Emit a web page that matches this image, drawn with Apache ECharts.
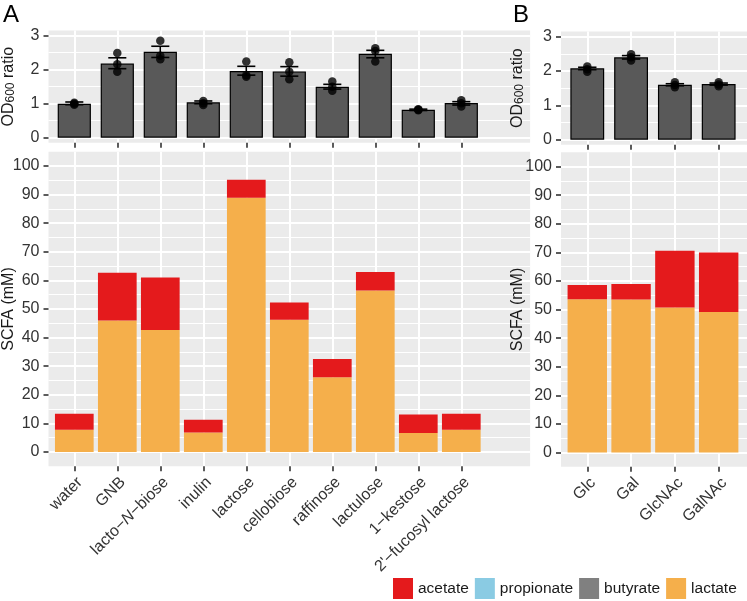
<!DOCTYPE html>
<html><head><meta charset="utf-8">
<script src="https://cdn.jsdelivr.net/npm/echarts@6/dist/echarts.min.js"></script>
<style>html,body{margin:0;padding:0;background:#fff}#c{width:747px;height:601px}</style>
</head><body><div id="c"></div>
<script>
// ---------------- data ----------------
const catsA = ['water','GNB','lacto−N−biose','inulin','lactose','cellobiose','raffinose','lactulose','1−kestose',"2'−fucosyl lactose"];
const catsB = ['Glc','Gal','GlcNAc','GalNAc'];

const odMeanA = [1.00,2.18,2.53,1.04,1.96,1.95,1.50,2.47,0.82,1.02];
const odLowA  = [0.97,2.03,2.36,1.00,1.84,1.81,1.43,2.35,0.80,0.96];
const odHighA = [1.05,2.35,2.69,1.08,2.10,2.09,1.57,2.57,0.84,1.06];
const odPointsA = [[0.97,1.00,1.03],[2.49,2.16,1.94],[2.85,2.41,2.31],[1.08,1.01,0.96],[2.24,1.84,1.79],
                   [2.22,1.94,1.72],[1.65,1.50,1.38],[2.63,2.55,2.24],[0.84,0.82,0.81],[1.10,1.01,0.92]];

const odMeanB = [2.08,2.40,1.60,1.62];
const odLowB  = [2.04,2.35,1.57,1.59];
const odHighB = [2.11,2.45,1.63,1.65];
const odPointsB = [[2.13,2.05,1.98],[2.49,2.40,2.31],[1.67,1.59,1.53],[1.67,1.61,1.56]];

const lactateA    = [7.8,46.0,42.7,6.8,88.9,46.2,26.1,56.5,6.6,7.8];
const butyrateA   = [0,0,0,0,0,0,0,0,0,0];
const propionateA = [0,0,0,0,0,0,0,0,0,0];
const acetateA    = [5.6,16.7,18.3,4.5,6.3,6.1,6.4,6.4,6.5,5.6];

const lactateB    = [53.6,53.5,50.7,49.1];
const butyrateB   = [0,0,0,0];
const propionateB = [0,0,0,0];
const acetateB    = [5.0,5.4,19.8,20.8];

const odRange = [0,3], odStep = 1;
const scfaRange = [0,100], scfaStep = 10;
const legendNames = ['acetate','propionate','butyrate','lactate'];
const colors = {acetate:'#E41A1C', propionate:'#8ACBE3', butyrate:'#808080', lactate:'#F5AF4B'};

// ---------------- layout helpers ----------------
const FONT = 'Liberation Sans, Arial, Helvetica, sans-serif';
const grids = [], xAxes = [], yAxes = [], series = [];
function addGrid(g){ grids.push(Object.assign({containLabel:false, outerBoundsMode:'none', borderWidth:0}, g)); return grids.length-1; }
const tickStyle = {color:'#333333', width:1.6};
const noZero = {show:false, onZero:false};

function panel(p){
  const n = p.cats.length;
  const pw = (n + 1.2) * p.band;
  const innerL = p.left + 0.1*p.band;
  const innerW = n*p.band;
  const span = p.range[1]-p.range[0];
  const unit = p.innerH/span;
  const exp = span*0.05*unit;
  const pTop = p.innerTop - exp, pH = p.innerH + 2*exp;
  // background panel
  const gP = addGrid({left:p.left, top:pTop, width:pw, height:pH, show:true, backgroundColor:'#EBEBEB'});
  xAxes.push({gridIndex:gP, type:'value', min:0, max:1, show:false, axisLine:noZero});
  yAxes.push({gridIndex:gP, type:'value', min:0, max:1, show:false, axisLine:noZero});
  // horizontal grid lines + y axis labels
  const gH = addGrid({left:p.left, top:p.innerTop, width:pw, height:p.innerH});
  xAxes.push({gridIndex:gH, type:'value', min:0, max:1, show:false, axisLine:noZero});
  yAxes.push({gridIndex:gH, type:'value', min:p.range[0], max:p.range[1], interval:p.step,
    name:p.name, nameLocation:'middle', nameRotate:90, nameGap:p.nameGap, nameMoveOverlap:false,
    nameTextStyle:p.nameStyle,
    axisLine:noZero,
    axisTick:{show:true, length:5, lineStyle:tickStyle},
    axisLabel:{margin:9, fontSize:16, color:'#333333', fontFamily:FONT},
    splitLine:{show:true, lineStyle:{color:'#ffffff', width:2}},
    minorTick:{show:false, splitNumber:2},
    minorSplitLine:{show:true, lineStyle:{color:'#ffffff', width:1}}
  });
  // data grid (category axis, vertical grid lines)
  const gV = addGrid({left:innerL, top:pTop, width:innerW, height:pH});
  xAxes.push({gridIndex:gV, type:'category', data:p.cats,
    axisLine:noZero,
    axisTick:{show:true, alignWithLabel:true, interval:0, length:5, lineStyle:tickStyle},
    axisLabel:{show:p.labels, interval:0, rotate:45, verticalAlign:'top', margin:8, fontSize:16, color:'#333333', fontFamily:FONT,
      formatter:(v)=>v.replace('−N−','−{i|N}−'),
      rich:{i:{fontStyle:'italic', fontSize:16, color:'#333333', fontFamily:FONT, verticalAlign:'top'}}},
    splitLine:{show:true, alignWithLabel:true, interval:0, lineStyle:{color:'#ffffff', width:2}}
  });
  yAxes.push({gridIndex:gV, type:'value', min:p.range[0]-span*0.05, max:p.range[1]+span*0.05, show:false, axisLine:noZero});
  return {x:xAxes.length-1, y:yAxes.length-1, band:p.band};
}

const odName = '{a|OD}{b|600}{a| ratio}';
const odNameStyle = {rich:{a:{fontSize:16, color:'#1a1a1a', fontFamily:FONT}, b:{fontSize:12, color:'#1a1a1a', fontFamily:FONT, verticalAlign:'bottom'}}};
const scfaNameStyle = {fontSize:16, color:'#1a1a1a', fontFamily:FONT};

const pTopA = panel({left:48.5, band:43, cats:catsA, innerTop:35.7, innerH:102, range:odRange, step:odStep, labels:false, name:odName, nameStyle:odNameStyle, nameGap:32});
const pBotA = panel({left:48.5, band:43, cats:catsA, innerTop:166, innerH:286, range:scfaRange, step:scfaStep, labels:true, name:'SCFA (mM)', nameStyle:scfaNameStyle, nameGap:32});
const pTopB = panel({left:561, band:43.8, cats:catsB, innerTop:36.7, innerH:103, range:odRange, step:odStep, labels:false, name:odName, nameStyle:odNameStyle, nameGap:35});
const pBotB = panel({left:561, band:43.8, cats:catsB, innerTop:166.5, innerH:286, range:scfaRange, step:scfaStep, labels:true, name:'SCFA (mM)', nameStyle:scfaNameStyle, nameGap:35});

function odSeries(pp, mean, low, high, pts){
  series.push({type:'bar', name:'OD', xAxisIndex:pp.x, yAxisIndex:pp.y, data:mean, barWidth:pp.band*0.8-1.2,
    itemStyle:{color:'#595959', borderColor:'#000000', borderWidth:1.2}, silent:true, z:2});
  series.push({type:'custom', name:'err', xAxisIndex:pp.x, yAxisIndex:pp.y, z:3, silent:true,
    data: mean.map((m,i)=>[i, low[i], high[i]]),
    encode:{x:0, y:[1,2]},
    renderItem:(params, api)=>{
      const i = api.value(0);
      const lo = api.coord([i, api.value(1)]);
      const hi = api.coord([i, api.value(2)]);
      const hw = api.size([1,0])[0]*0.21;
      const st = {stroke:'#000000', lineWidth:1.6};
      return {type:'group', children:[
        {type:'line', shape:{x1:lo[0], y1:lo[1], x2:hi[0], y2:hi[1]}, style:st},
        {type:'line', shape:{x1:lo[0]-hw, y1:lo[1], x2:lo[0]+hw, y2:lo[1]}, style:st},
        {type:'line', shape:{x1:hi[0]-hw, y1:hi[1], x2:hi[0]+hw, y2:hi[1]}, style:st}
      ]};
    }});
  const pdata = [];
  pts.forEach((arr,i)=>arr.forEach(v=>pdata.push([i, v])));
  series.push({type:'scatter', name:'pts', xAxisIndex:pp.x, yAxisIndex:pp.y, data:pdata, symbolSize:8.5,
    itemStyle:{color:'#000000'}, silent:true, z:4});
}
odSeries(pTopA, odMeanA, odLowA, odHighA, odPointsA);
odSeries(pTopB, odMeanB, odLowB, odHighB, odPointsB);

function scfaSeries(pp, stackId, lac, but, pro, ace){
  const defs = [['lactate',lac],['butyrate',but],['propionate',pro],['acetate',ace]];
  defs.forEach(([nm, arr])=>{
    series.push({type:'bar', name:nm, stack:stackId, xAxisIndex:pp.x, yAxisIndex:pp.y, data:arr,
      barWidth:pp.band*0.9, itemStyle:{color:colors[nm]}, silent:true, z:2});
  });
}
scfaSeries(pBotA, 'A', lactateA, butyrateA, propionateA, acetateA);
scfaSeries(pBotB, 'B', lactateB, butyrateB, propionateB, acetateB);

const chart = echarts.init(document.getElementById('c'), null, {renderer:'canvas'});
chart.setOption({
  animation:false,
  backgroundColor:'#ffffff',
  textStyle:{fontFamily:FONT},
  color: legendNames.map(n=>colors[n]),
  grid:grids, xAxis:xAxes, yAxis:yAxes, series:series,
  legend:{data:legendNames, left:393, top:578, padding:0, itemWidth:20, itemHeight:21, itemGap:6, icon:'rect',
    selectedMode:false, textStyle:{fontSize:15.5, color:'#1a1a1a', fontFamily:FONT}},
  graphic:[
    {type:'text', left:3, top:3, style:{text:'A', fontSize:24, fill:'#000000', fontFamily:FONT}},
    {type:'text', left:513, top:3, style:{text:'B', fontSize:24, fill:'#000000', fontFamily:FONT}}
  ]
});
</script></body></html>
